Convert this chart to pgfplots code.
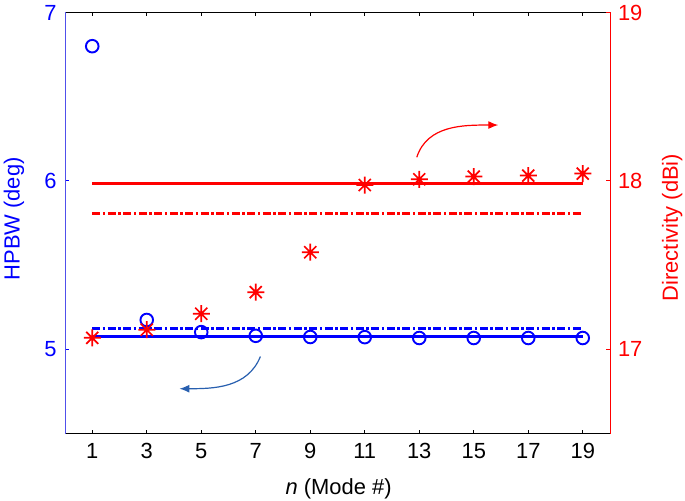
\documentclass[border=0pt]{standalone}
\usepackage{fontspec}
\setmainfont{Liberation Sans}
\usepackage{pgfplots}
\pgfplotsset{compat=1.18}
\usetikzlibrary{arrows.meta}

\definecolor{hblue}{rgb}{0,0,1}
\definecolor{dred}{rgb}{1,0,0}
\definecolor{spineblue}{RGB}{80,80,235}
\definecolor{arrblue}{RGB}{40,95,175}

\pgfdeclareplotmark{ast8}{%
  \pgfpathmoveto{\pgfqpoint{-\pgfplotmarksize}{0pt}}%
  \pgfpathlineto{\pgfqpoint{\pgfplotmarksize}{0pt}}%
  \pgfpathmoveto{\pgfqpoint{0pt}{-\pgfplotmarksize}}%
  \pgfpathlineto{\pgfqpoint{0pt}{\pgfplotmarksize}}%
  \pgfpathmoveto{\pgfqpoint{-0.707\pgfplotmarksize}{-0.707\pgfplotmarksize}}%
  \pgfpathlineto{\pgfqpoint{0.707\pgfplotmarksize}{0.707\pgfplotmarksize}}%
  \pgfpathmoveto{\pgfqpoint{-0.707\pgfplotmarksize}{0.707\pgfplotmarksize}}%
  \pgfpathlineto{\pgfqpoint{0.707\pgfplotmarksize}{-0.707\pgfplotmarksize}}%
  \pgfusepathqstroke}

\pgfplotsset{
  common/.style={
    at={(0,0)}, anchor=south west,
    scale only axis, width=545bp, height=421.2bp,
    xmin=0, xmax=20,
    font=\fontsize{22}{26}\selectfont,
    tick label style={font=\fontsize{22}{26}\selectfont},
    label style={font=\fontsize{22}{26}\selectfont},
    /pgf/number format/assume math mode=true,
    tick align=inside,
    major tick length=4bp,
    clip=false,
  }
}

\begin{document}
\begin{tikzpicture}
\useasboundingbox (-65bp,-67.3bp) rectangle (620bp,433.7bp);
\begin{axis}[common,
  ymin=4.5, ymax=7,
  axis x line*=box, axis y line*=left,
  x axis line style={black, line width=1bp},
  y axis line style={spineblue, line width=0.8bp},
  xtick={1,3,...,19},
  ytick={5,6,7},
  xtick style={black, line width=1bp},
  ytick style={hblue, line width=1bp},
  yticklabel style={hblue, xshift=-5bp},
  xticklabel style={black, yshift=-6bp},
  ylabel={HPBW (deg)},
  ylabel style={hblue, at={(axis description cs:-0.0936,0.51)}, anchor=center},
  xlabel={\textit{n} (Mode \#)},
  xlabel style={at={(axis description cs:0.502,0)}, anchor=base, yshift=-60.3bp},
]
\addplot[hblue, line width=2.6bp] coordinates {(1,5.078) (19,5.078)};
\addplot[hblue, line width=3bp, dash pattern=on 8bp off 2.5bp on 2.5bp off 2.5bp] coordinates {(1,5.127) (19,5.127)};
\addplot[only marks, mark=o, mark size=6.3bp, hblue, line width=1.9bp] coordinates {
(1,6.80) (3,5.175) (5,5.103) (7,5.081) (9,5.074) (11,5.073) (13,5.068) (15,5.068) (17,5.068) (19,5.068)};
\draw[arrblue, line width=1.2bp, -{Latex[length=10bp,width=8bp]}] (axis cs:7.17,4.958) to[out=-112,in=0] (axis cs:4.20,4.767);
\end{axis}
\begin{axis}[common,
  ymin=16.5, ymax=19,
  axis x line=none, axis y line*=right,
  y axis line style={dred, line width=1bp},
  ytick={17,18,19},
  ytick style={dred, line width=1bp},
  yticklabel style={dred, xshift=4.5bp},
  ylabel={Directivity (dBi)},
  ylabel style={dred, at={(axis description cs:1.114,0.4895)}, anchor=center},
]
\addplot[dred, line width=2.6bp] coordinates {(1,17.985) (19,17.985)};
\addplot[dred, line width=3bp, dash pattern=on 8bp off 2.5bp on 2.5bp off 2.5bp] coordinates {(1,17.804) (19,17.804)};
\addplot[only marks, mark=ast8, mark size=8.5bp, dred, line width=1.7bp] coordinates {
(1,17.069) (3,17.117) (5,17.212) (7,17.340) (9,17.577) (11,17.976) (13,18.010) (15,18.026) (17,18.032) (19,18.044)};
\draw[dred, line width=1.2bp, -{Latex[length=10bp,width=8bp]}] (axis cs:12.91,18.141) to[out=72,in=180] (axis cs:15.90,18.332);
\end{axis}
\end{tikzpicture}
\end{document}
